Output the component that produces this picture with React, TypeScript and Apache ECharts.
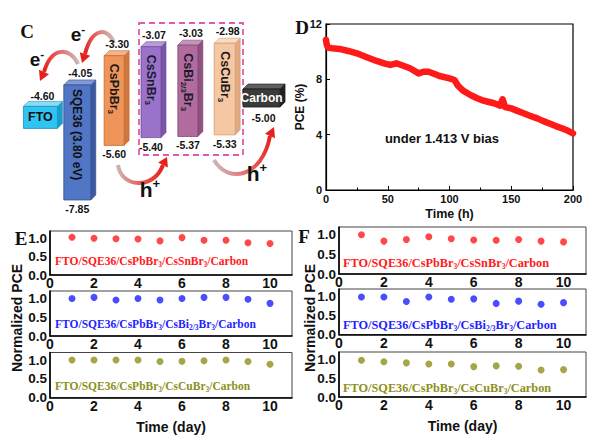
import React, { useEffect, useRef } from 'react';
import * as echarts from 'echarts';

// ---------- Panel C: energy levels (eV) ----------
const materials = ['FTO', 'SQE36 (3.80 eV)', 'CsPbBr3', 'CsSnBr3', 'CsBi2/3Br3', 'CsCuBr3', 'Carbon'];
const upperLevels = [-4.6, -4.05, -3.3, -3.07, -3.03, -2.98, -5.0];
const lowerLevels: (number | null)[] = [null, -7.85, -5.6, -5.4, -5.37, -5.33, null];

// ---------- Panel D: PCE vs time ----------
const timeHours = [0, 0.5, 1.5, 5, 11, 18, 25, 33, 41, 47, 52, 57, 62, 68, 75, 79, 83, 88, 92, 100, 104, 107, 111, 117, 122, 126, 131, 136, 141, 143, 145, 150, 155, 160, 165, 171, 176, 182, 186, 191, 196, 200];
const pceValues = [10.85, 10.55, 10.3, 10.25, 10.2, 10.05, 9.88, 9.6, 9.33, 9.15, 9.04, 9.16, 9.0, 8.8, 8.43, 8.55, 8.55, 8.38, 8.24, 8.07, 7.95, 7.52, 7.18, 6.87, 6.65, 6.5, 6.38, 6.27, 6.1, 6.56, 6.0, 5.9, 5.72, 5.55, 5.37, 5.18, 4.98, 4.77, 4.62, 4.46, 4.28, 4.1];

// ---------- Panels E / F: normalized PCE vs day ----------
const days = [1, 2, 3, 4, 5, 6, 7, 8, 9, 10];
const eCsSnBr3 = [1.03, 1.0, 0.99, 0.98, 0.93, 1.02, 0.95, 0.95, 0.88, 0.86];
const eCsBiBr3 = [1.0, 1.03, 0.96, 1.0, 0.96, 1.0, 1.03, 1.03, 0.98, 0.87];
const eCsCuBr3 = [1.0, 1.0, 1.0, 1.0, 0.96, 0.97, 0.98, 1.0, 0.96, 0.89];
const fCsSnBr3 = [1.0, 0.84, 0.88, 0.95, 0.9, 0.87, 0.86, 0.88, 0.84, 0.82];
const fCsBiBr3 = [0.99, 0.99, 0.87, 0.99, 0.93, 0.94, 0.82, 0.88, 0.8, 0.84];
const fCsCuBr3 = [0.98, 0.94, 0.91, 0.88, 0.88, 0.81, 0.83, 0.82, 0.72, 0.73];
const deviceNames = [
  'FTO/SQE36/CsPbBr3/CsSnBr3/Carbon',
  'FTO/SQE36/CsPbBr3/CsBi2/3Br3/Carbon',
  'FTO/SQE36/CsPbBr3/CsCuBr3/Carbon',
];

// ---------- styles ----------
const SANS = 'Liberation Sans';
const SERIF = 'Liberation Serif';
const seriesColors = ['#ff1a1a', '#1f1fff', '#8f8f1c'];
const levelStyles = [
  { w: 34, front: '#2fc4f2', top: '#8adcf6', side: '#1a9fcc', edge: '#1b8fbb', text: '#111' },
  { w: 27, front: '#5176c6', top: '#7f9ad7', side: '#3b5aa2', edge: '#34508f', text: '#111' },
  { w: 20, front: '#f0955a', top: '#f6b488', side: '#cf773d', edge: '#c06a30', text: '#1a1a1a' },
  { w: 20, front: '#9b72c9', top: '#b89bdb', side: '#7b56a9', edge: '#6e4c98', text: '#1a1a2e' },
  { w: 20, front: '#b16c9d', top: '#c993b9', side: '#8f5181', edge: '#7f4672', text: '#1a1a2e' },
  { w: 21, front: '#f6c7a3', top: '#fadcc5', side: '#dfa982', edge: '#d49a70', text: '#1a1a1a' },
  { w: 37, front: '#3b3b3b', top: '#5e5e5e', side: '#222', edge: '#1a1a1a', text: '#fff' },
];

// subscripts via rich text
const subRich = (s: string) => s.replace(/Bi2\/3/g, 'Bi{s|2/3}').replace(/Br3/g, 'Br{s|3}');

// schematic compression of deep levels (diagram is not to scale below -5.6 eV)
const drawLevel = (e: number) => (e >= -5.6 ? e : -5.6 + (e + 5.6) * 0.622);

const DEPTH = 5;

function renderLevel(params: any, api: any) {
  const i = api.value(0);
  const up = api.value(1);
  const low = api.value(2);
  const st = levelStyles[i];
  const cx = api.coord([i, -3])[0];
  const yUp = api.coord([i, drawLevel(up)])[1];
  const electrode = lowerLevels[i] == null;
  let yTop: number;
  let yBot: number;
  if (electrode) {
    if (i === 0) {
      yTop = yUp;
      yBot = yUp + 22;
    } else {
      yBot = yUp - 15;
      yTop = yBot - 18;
    }
  } else {
    yTop = yUp;
    yBot = api.coord([i, drawLevel(low)])[1];
  }
  const x0 = cx - st.w / 2;
  const x1 = cx + st.w / 2;
  const d = DEPTH;
  const children: any[] = [
    {
      type: 'polygon',
      shape: { points: [[x1, yTop], [x1 + d, yTop - d], [x1 + d, yBot - d], [x1, yBot]] },
      style: { fill: st.side, stroke: st.edge, lineWidth: 0.6 },
    },
    {
      type: 'polygon',
      shape: { points: [[x0, yTop], [x0 + d, yTop - d], [x1 + d, yTop - d], [x1, yTop]] },
      style: { fill: st.top, stroke: st.edge, lineWidth: 0.6 },
    },
    {
      type: 'rect',
      shape: { x: x0, y: yTop, width: st.w, height: yBot - yTop },
      style: { fill: st.front, stroke: st.edge, lineWidth: 0.8 },
    },
  ];
  const labelStyle = {
    fill: '#111', fontSize: 10.5, fontWeight: 'bold', fontFamily: SANS,
    align: 'center', textAlign: 'center', verticalAlign: 'middle', textVerticalAlign: 'middle',
  };
  if (electrode) {
    children.push({
      type: 'text', x: cx, y: (yTop + yBot) / 2,
      style: {
        text: materials[i], fill: st.text, fontSize: i === 0 ? 12.5 : 12, fontWeight: 'bold', fontFamily: SANS,
        align: 'center', textAlign: 'center', verticalAlign: 'middle', textVerticalAlign: 'middle',
      },
    });
    children.push({
      type: 'text', x: cx + 2, y: i === 0 ? yTop - 10 : yUp - 4,
      style: { ...labelStyle, text: up.toFixed(2) },
    });
  } else {
    children.push({
      type: 'text', x: cx, y: yTop + (i === 1 ? 4 : 8), rotation: -Math.PI / 2,
      style: {
        text: subRich(materials[i]), fill: st.text, fontSize: i === 1 ? 12 : 12.5, fontWeight: 'bold',
        fontFamily: SANS, lineHeight: 16,
        align: 'left', textAlign: 'left', verticalAlign: 'middle', textVerticalAlign: 'middle',
        rich: { s: { fontSize: 8, lineHeight: 8, verticalAlign: 'bottom', fill: st.text, fontFamily: SANS, fontWeight: 'bold' } },
      },
    });
    children.push({ type: 'text', x: cx + 3, y: yTop - 12, style: { ...labelStyle, text: up.toFixed(2) } });
    children.push({ type: 'text', x: cx, y: yBot + 9, style: { ...labelStyle, text: low.toFixed(2) } });
  }
  return { type: 'group', children };
}

function arrowElements(p: number[], tip: number[]) {
  // p = [x1,y1,cx1,cy1,cx2,cy2,x2,y2]
  const [x1, y1, c1x, c1y, c2x, c2y, x2, y2] = p;
  const dx = tip[0] - x2;
  const dy = tip[1] - y2;
  const len = Math.hypot(dx, dy) || 1;
  const px = -dy / len;
  const py = dx / len;
  const hw = 5.5;
  return [
    {
      type: 'bezierCurve',
      shape: { x1, y1, cpx1: c1x, cpy1: c1y, cpx2: c2x, cpy2: c2y, x2, y2 },
      style: {
        fill: 'none', lineWidth: 4,
        stroke: {
          type: 'linear', x: x1, y: y1, x2, y2, global: true,
          colorStops: [
            { offset: 0, color: '#cdb3b3' },
            { offset: 0.45, color: '#e86464' },
            { offset: 1, color: '#e6211d' },
          ],
        },
      },
    },
    {
      type: 'polygon',
      shape: { points: [tip, [x2 + px * hw, y2 + py * hw], [x2 - px * hw, y2 - py * hw]] },
      style: { fill: '#e6211d' },
    },
  ];
}

function buildOption(): any {
  const gridsEF = [
    { left: 50, top: 231, width: 242, height: 44 },
    { left: 50, top: 291, width: 242, height: 45 },
    { left: 50, top: 352.5, width: 242, height: 45.2 },
    { left: 339, top: 227, width: 247, height: 47 },
    { left: 339, top: 289, width: 247, height: 45.5 },
    { left: 339, top: 352, width: 247, height: 45 },
  ];
  const grid: any[] = [
    { left: 22, top: 24.5, width: 258, height: 175.5 },
    { left: 326, top: 24, width: 247, height: 166, show: true, borderColor: '#000', borderWidth: 1.2 },
    ...gridsEF.map((g) => ({ ...g, show: true, borderColor: '#444', borderWidth: 1 })),
  ];

  const axisLabelBase = { color: '#111', fontWeight: 'bold', fontFamily: SANS };

  const xAxis: any[] = [
    { gridIndex: 0, type: 'category', data: materials, show: false },
    {
      gridIndex: 1, type: 'value', min: 0, max: 200, interval: 50,
      axisLine: { lineStyle: { color: '#000', width: 1.2 } },
      axisTick: { inside: true, length: 4, lineStyle: { color: '#000' } },
      minorTick: { show: true, splitNumber: 2, length: 2.5, lineStyle: { color: '#000' } },
      splitLine: { show: false },
      axisLabel: { ...axisLabelBase, fontSize: 11, margin: 3 },
      name: 'Time (h)', nameLocation: 'middle', nameGap: 17,
      nameTextStyle: { color: '#111', fontWeight: 'bold', fontFamily: SANS, fontSize: 12.5 },
    },
  ];
  const yAxis: any[] = [
    { gridIndex: 0, type: 'value', min: -7, max: -2.5, show: false },
    {
      gridIndex: 1, type: 'value', min: 0, max: 12, interval: 4,
      axisLine: { show: true, lineStyle: { color: '#000', width: 1.2 } },
      axisTick: { show: true, inside: true, length: 4, lineStyle: { color: '#000' } },
      splitLine: { show: false },
      axisLabel: { ...axisLabelBase, fontSize: 11, margin: 4 },
      name: 'PCE (%)', nameLocation: 'middle', nameGap: 17,
      nameTextStyle: { color: '#111', fontWeight: 'bold', fontFamily: SANS, fontSize: 12 },
    },
  ];
  gridsEF.forEach((g, k) => {
    const bottom = k === 2 || k === 5;
    xAxis.push({
      gridIndex: 2 + k, type: 'value', min: 0, max: 11, interval: 2,
      axisLine: { lineStyle: { color: '#000', width: 1.6 } },
      axisTick: { show: false },
      splitLine: { show: false },
      axisLabel: {
        ...axisLabelBase, fontSize: 14, margin: 1,
        formatter: (v: number) => (v % 2 === 0 ? String(v) : ''),
      },
      name: bottom ? 'Time (day)' : '',
      nameLocation: 'middle', nameGap: 22,
      nameTextStyle: { color: '#111', fontWeight: 'bold', fontFamily: SANS, fontSize: 14 },
    });
    yAxis.push({
      gridIndex: 2 + k, type: 'value', min: 0, max: 1.2, interval: 0.5,
      axisLine: { show: true, lineStyle: { color: '#000', width: 1.6 } },
      axisTick: { show: false },
      splitLine: { show: false },
      axisLabel: {
        ...axisLabelBase, fontSize: 13.5, margin: 3,
        formatter: (v: number) => (Math.abs(v * 2 - Math.round(v * 2)) < 1e-6 ? v.toFixed(1) : ''),
      },
    });
  });

  const efData = [eCsSnBr3, eCsBiBr3, eCsCuBr3, fCsSnBr3, fCsBiBr3, fCsCuBr3];
  const series: any[] = [
    {
      type: 'custom', xAxisIndex: 0, yAxisIndex: 0, silent: true,
      data: materials.map((m, i) => [i, upperLevels[i], lowerLevels[i] ?? upperLevels[i]]),
      renderItem: renderLevel,
    },
    {
      type: 'line', xAxisIndex: 1, yAxisIndex: 1, symbol: 'none', silent: true,
      data: timeHours.map((t, i) => [t, pceValues[i]]),
      lineStyle: { color: '#ff1a1a', width: 6.5, cap: 'round', join: 'round' },
    },
    ...efData.map((vals, k) => ({
      type: 'scatter', xAxisIndex: 2 + k, yAxisIndex: 2 + k, silent: true,
      symbol: 'circle', symbolSize: 7,
      itemStyle: { color: seriesColors[k % 3] },
      data: days.map((d, i) => [d, vals[i]]),
    })),
  ];

  const deviceText = (k: number, x: number, y: number, size: number) => ({
    type: 'text', x, y,
    style: {
      text: subRich(deviceNames[k % 3]), fill: seriesColors[k % 3],
      fontSize: size, fontWeight: 'bold', fontFamily: SERIF, lineHeight: 15,
      align: 'left', textAlign: 'left', verticalAlign: 'middle', textVerticalAlign: 'middle',
      rich: { s: { fontSize: 7.5, lineHeight: 7, verticalAlign: 'bottom', fill: seriesColors[k % 3], fontFamily: SERIF, fontWeight: 'bold' } },
    },
  });

  const panelLetter = (t: string, x: number, y: number) => ({
    type: 'text', x, y,
    style: {
      text: t, fill: '#111', fontSize: 19, fontWeight: 'bold', fontFamily: SERIF,
      align: 'center', textAlign: 'center', verticalAlign: 'middle', textVerticalAlign: 'middle',
    },
  });

  const charge = (c: string, sign: string, x: number, y: number, size: number) => ({
    type: 'text', x, y,
    style: {
      text: `{m|${c}}{p|${sign}}`, fill: '#111', fontFamily: SANS, fontWeight: 'bold', fontSize: size,
      align: 'center', textAlign: 'center', verticalAlign: 'middle', textVerticalAlign: 'middle',
      rich: {
        m: { fontSize: size, lineHeight: size + 4, fontWeight: 'bold', fontFamily: SANS, fill: '#111' },
        p: { fontSize: size * 0.62, lineHeight: size * 0.62, verticalAlign: 'top', fontWeight: 'bold', fontFamily: SANS, fill: '#111' },
      },
    },
  });

  const yName = (x: number, y: number) => ({
    type: 'text', x, y, rotation: Math.PI / 2,
    style: {
      text: 'Normalized PCE', fill: '#111', fontSize: 14, fontWeight: 'bold', fontFamily: SANS,
      align: 'center', textAlign: 'center', verticalAlign: 'middle', textVerticalAlign: 'middle',
    },
  });

  const graphic: any[] = [
    {
      type: 'rect', shape: { x: 139, y: 23, width: 104, height: 132 },
      style: { fill: 'none', stroke: '#e25aa8', lineWidth: 1.8, lineDash: [6, 4] },
    },
    ...arrowElements([114, 43, 108, 27, 92, 27, 85, 54], [82, 63]),
    ...arrowElements([78, 64, 71, 48, 52, 45, 44, 72], [40, 81]),
    ...arrowElements([118, 165, 121, 188, 154, 190, 163, 165], [167, 157]),
    ...arrowElements([214, 160, 228, 184, 262, 178, 270, 136], [274, 127]),
    charge('e', '-', 78, 34, 19),
    charge('e', '-', 37, 59, 19),
    charge('h', '+', 150, 189, 21),
    charge('h', '+', 257, 173, 21),
    panelLetter('C', 27, 31),
    panelLetter('D', 302, 27),
    panelLetter('E', 21, 238),
    panelLetter('F', 304, 236),
    {
      type: 'text', x: 442, y: 138,
      style: {
        text: 'under 1.413 V bias', fill: '#111', fontSize: 13, fontWeight: 'bold', fontFamily: SANS,
        align: 'center', textAlign: 'center', verticalAlign: 'middle', textVerticalAlign: 'middle',
      },
    },
    yName(17, 318),
    yName(310, 318),
    deviceText(0, 55, 261, 11.5),
    deviceText(1, 55, 324, 11.5),
    deviceText(2, 55, 386, 11.5),
    deviceText(3, 343, 263, 12.3),
    deviceText(4, 343, 325, 12.3),
    deviceText(5, 343, 388, 12.3),
  ];

  return {
    animation: false,
    backgroundColor: '#fff',
    textStyle: { fontFamily: SANS },
    grid,
    xAxis,
    yAxis,
    series,
    graphic,
  };
}

export default function App() {
  const ref = useRef<HTMLDivElement>(null);
  useEffect(() => {
    if (!ref.current) return;
    const chart = echarts.init(ref.current, null, { renderer: 'svg' });
    chart.setOption(buildOption());
    return () => chart.dispose();
  }, []);
  return (
    <div
      ref={ref}
      style={{ position: 'absolute', left: 0, top: 0, width: 600, height: 440, background: '#fff' }}
    />
  );
}
